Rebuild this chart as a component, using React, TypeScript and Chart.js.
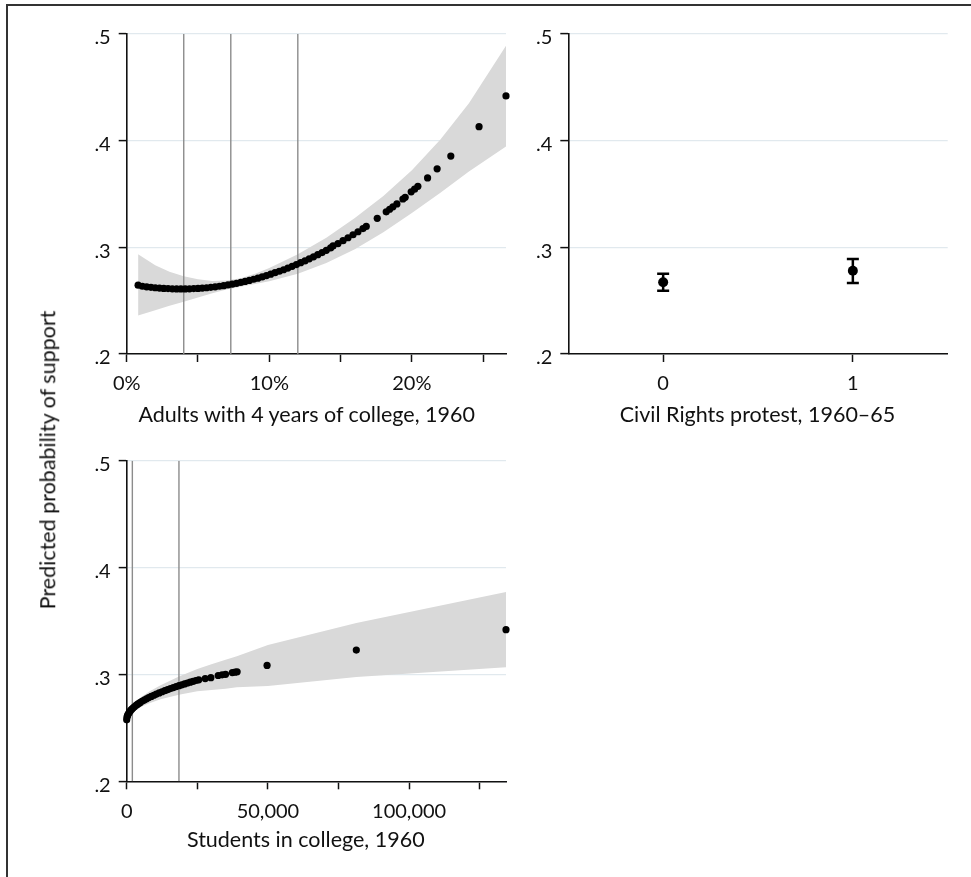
import React, { useEffect, useRef } from 'react';
import { Chart, registerables } from 'chart.js';

Chart.register(...registerables);

const FONT = 'Lato, "Open Sans", sans-serif';
const INK = '#111111';
const GRID = '#e1e9ee';
const BAND = '#d9d9d9';
const REF = '#8c8c8c';

// ---------- shared y axis ----------
const Y_MIN = 0.2;
const Y_MAX = 0.5;
const Y_TICKS = [0.2, 0.3, 0.4, 0.5];
const Y_LABELS = ['.2', '.3', '.4', '.5'];
const Y_TITLE = 'Predicted probability of support';

// ---------- panel 1: adults with 4 years of college ----------
const TL_TITLE = 'Adults with 4 years of college, 1960';
const TL_X_MIN = 0;
const TL_X_MAX = 26.6;
const TL_X_TICKS = [0, 5, 10, 15, 20, 25];
const TL_X_LABELS = ['0%', '', '10%', '', '20%', ''];
const TL_REF = [4.0, 7.3, 12.0];
const TL_X = [
  0.8, 1.1, 1.4, 1.7, 2.0, 2.3, 2.6, 2.9, 3.2, 3.5, 3.8, 4.1, 4.4, 4.7, 5.0, 5.3,
  5.6, 5.9, 6.2, 6.5, 6.8, 7.1, 7.4, 7.7, 8.0, 8.3, 8.6, 8.9, 9.2, 9.5, 9.8, 10.1,
  10.4, 10.7, 11.0, 11.3, 11.6, 11.9, 12.2, 12.5, 12.8, 13.1, 13.4, 13.7, 14.0, 14.3,
  14.47, 14.82, 15.17, 15.52, 15.87, 16.22, 16.57, 16.8, 17.57, 18.2, 18.44, 18.67,
  18.95, 19.37, 19.53, 19.95, 20.19, 20.42, 21.1, 21.77, 22.73, 24.71, 26.6,
];
const TL_Y = [
  0.2645, 0.2635, 0.2630, 0.2625, 0.2621, 0.2618, 0.2615, 0.2613, 0.2611, 0.2610,
  0.2610, 0.2610, 0.2611, 0.2613, 0.2615, 0.2618, 0.2621, 0.2625, 0.2630, 0.2635,
  0.2641, 0.2648, 0.2655, 0.2663, 0.2671, 0.2680, 0.2690, 0.2701, 0.2711, 0.2723,
  0.2735, 0.2748, 0.2762, 0.2776, 0.2790, 0.2806, 0.2822, 0.2838, 0.2856, 0.2873,
  0.2892, 0.2911, 0.2931, 0.2951, 0.2972, 0.2994,
  0.3013, 0.3035, 0.3062, 0.3090, 0.3118, 0.3146, 0.3176, 0.3196, 0.3272, 0.3333,
  0.3357, 0.3380, 0.3407, 0.3453, 0.3469, 0.3520, 0.3545, 0.3572, 0.3651, 0.3736,
  0.3856, 0.4131, 0.4419,
];
const TL_BAND_X = [0.8, 2, 3, 4, 5, 6, 7, 8, 9, 10, 12, 14, 16, 18, 20, 22, 24, 26.6];
const TL_HI = [
  0.2935, 0.2831, 0.2772, 0.2730, 0.2700, 0.2685, 0.2688, 0.2711, 0.2752, 0.2806,
  0.2936, 0.3090, 0.3274, 0.3482, 0.3723, 0.4012, 0.4350, 0.4889,
];
const TL_LO = [
  0.2362, 0.2411, 0.2452, 0.2490, 0.2530, 0.2569, 0.2604, 0.2631, 0.2656, 0.2682,
  0.2752, 0.2854, 0.2982, 0.3142, 0.3323, 0.3512, 0.3710, 0.3945,
];

// ---------- panel 2: civil rights protest ----------
const TR_TITLE = 'Civil Rights protest, 1960–65';
const TR_X_MIN = -0.5;
const TR_X_MAX = 1.5;
const TR_X_TICKS = [0, 1];
const TR_X_LABELS = ['0', '1'];
const TR_X = [0, 1];
const TR_Y = [0.2672, 0.2781];
const TR_LO = [0.2594, 0.2666];
const TR_HI = [0.2753, 0.2891];

// ---------- panel 3: students in college ----------
const BL_TITLE = 'Students in college, 1960';
const BL_X_MIN = 0;
const BL_X_MAX = 134300;
const BL_X_TICKS = [0, 25000, 50000, 75000, 100000, 125000];
const BL_X_LABELS = ['0', '', '50,000', '', '100,000', ''];
const BL_REF = [2000, 18500];
const BL_X = [
  0, 100, 250, 450, 700, 1000, 1400, 1800, 2300, 2800, 3400, 4000, 4700, 5400, 6200,
  7000, 7800, 8700, 9600, 10500, 11500, 12500, 13500, 14500, 15500, 16500, 17500,
  18500, 19500, 20500, 21500, 22500, 23500, 24500, 25500,
  27800, 29800, 32400, 33800, 35000, 37400, 38400, 39100, 49700, 81300, 134300,
];
const BL_Y = [
  0.2575, 0.2599, 0.2612, 0.2625, 0.2637, 0.2649, 0.2663, 0.2675, 0.2688, 0.2699,
  0.2712, 0.2724, 0.2736, 0.2748, 0.2760, 0.2772, 0.2783, 0.2794, 0.2805, 0.2816,
  0.2827, 0.2838, 0.2848, 0.2858, 0.2868, 0.2877, 0.2886, 0.2895, 0.2903, 0.2911,
  0.2920, 0.2928, 0.2935, 0.2943, 0.2950,
  0.2961, 0.2970, 0.2990, 0.2996, 0.3001, 0.3017, 0.3021, 0.3025, 0.3084, 0.3228,
  0.3419,
];
const BL_BAND_X = [0, 1000, 2500, 5000, 8000, 12000, 18500, 25000, 30000, 35000, 39000, 50000, 81300, 134300];
const BL_HI = [
  0.2605, 0.2684, 0.2732, 0.2786, 0.2840, 0.2898, 0.2980, 0.3052, 0.3095, 0.3137,
  0.3170, 0.3276, 0.3481, 0.3771,
];
const BL_LO = [
  0.2545, 0.2614, 0.2652, 0.2696, 0.2730, 0.2768, 0.2810, 0.2842, 0.2855, 0.2867,
  0.2880, 0.2892, 0.2975, 0.3067,
];

type Pt = { x: number; y: number };
const zip = (xs: number[], ys: number[]): Pt[] => xs.map((x, i) => ({ x, y: ys[i] }));

function bandSets(xs: number[], lo: number[], hi: number[]) {
  return [
    {
      data: zip(xs, lo),
      showLine: true,
      borderWidth: 0,
      borderColor: 'rgba(0,0,0,0)',
      pointRadius: 0,
      fill: false,
      order: 3,
    },
    {
      data: zip(xs, hi),
      showLine: true,
      borderWidth: 0,
      borderColor: 'rgba(0,0,0,0)',
      backgroundColor: BAND,
      pointRadius: 0,
      fill: '-1',
      order: 3,
    },
  ];
}

function refSets(vals: number[]) {
  return vals.map((v) => ({
    data: [
      { x: v, y: Y_MIN },
      { x: v, y: Y_MAX },
    ],
    showLine: true,
    borderColor: REF,
    borderWidth: 1.4,
    pointRadius: 0,
    fill: false,
    order: 2,
  }));
}

function pointSet(xs: number[], ys: number[], r: number) {
  return {
    data: zip(xs, ys),
    showLine: false,
    pointRadius: r,
    pointBackgroundColor: '#000',
    pointBorderColor: '#000',
    pointBorderWidth: 0,
    clip: false as any,
    order: 0,
  };
}

type Cfg = {
  datasets: any[];
  xMin: number;
  xMax: number;
  xTicks: number[];
  xLabels: string[];
  padding: { left: number; top: number; right: number; bottom: number };
  yWidth: number;
  xHeight: number;
};

function buildOptions(c: Cfg): any {
  const tickFont = { family: FONT, size: 20 };
  return {
    responsive: false,
    animation: false,
    events: [],
    layout: { padding: c.padding },
    plugins: { legend: { display: false }, tooltip: { enabled: false } },
    scales: {
      x: {
        type: 'linear',
        min: c.xMin,
        max: c.xMax,
        afterBuildTicks: (s: any) => {
          s.ticks = c.xTicks.map((v) => ({ value: v }));
        },
        afterFit: (s: any) => {
          s.height = c.xHeight;
        },
        ticks: {
          callback: (_v: any, i: number) => c.xLabels[i],
          font: tickFont,
          color: INK,
          padding: 10,
          maxRotation: 0,
          autoSkip: false,
        },
        grid: {
          drawOnChartArea: false,
          drawTicks: true,
          tickLength: 8,
          tickColor: INK,
          tickWidth: 1.5,
        },
        border: { display: true, color: INK, width: 1.6 },
      },
      y: {
        type: 'linear',
        min: Y_MIN,
        max: Y_MAX,
        afterBuildTicks: (s: any) => {
          s.ticks = Y_TICKS.map((v) => ({ value: v }));
        },
        afterFit: (s: any) => {
          s.width = c.yWidth;
        },
        ticks: {
          callback: (_v: any, i: number) => Y_LABELS[i],
          font: tickFont,
          color: INK,
          padding: 8,
          labelOffset: 4,
          autoSkip: false,
        },
        grid: {
          color: GRID,
          lineWidth: 1.2,
          drawTicks: true,
          tickLength: 8,
          tickColor: INK,
          tickWidth: 1.5,
        },
        border: { display: true, color: INK, width: 1.6 },
      },
    },
  };
}

function Panel(props: { cfg: Cfg; left: number; top: number; width: number; height: number }) {
  const ref = useRef<HTMLCanvasElement | null>(null);
  useEffect(() => {
    if (!ref.current) return;
    const chart = new Chart(ref.current, {
      type: 'scatter',
      data: { datasets: props.cfg.datasets },
      options: buildOptions(props.cfg),
    } as any);
    return () => chart.destroy();
  }, []);
  return (
    <canvas
      ref={ref}
      width={props.width}
      height={props.height}
      style={{
        position: 'absolute',
        left: props.left,
        top: props.top,
        width: props.width,
        height: props.height,
      }}
    />
  );
}

const titleStyle = (x: number, y: number): React.CSSProperties => ({
  position: 'absolute',
  left: x,
  top: y,
  transform: 'translate(-50%, -50%)',
  whiteSpace: 'nowrap',
  fontFamily: FONT,
  fontSize: 21.5,
  lineHeight: 1,
  color: INK,
});

export default function App() {
  const tl: Cfg = {
    datasets: [
      pointSet(TL_X, TL_Y, 3.6),
      ...refSets(TL_REF),
      ...bandSets(TL_BAND_X, TL_LO, TL_HI),
    ],
    xMin: TL_X_MIN,
    xMax: TL_X_MAX,
    xTicks: TL_X_TICKS,
    xLabels: TL_X_LABELS,
    padding: { left: 0, top: 34, right: 34, bottom: 0 },
    yWidth: 126.7,
    xHeight: 76,
  };

  const tr: Cfg = {
    datasets: [
      pointSet(TR_X, TR_Y, 5),
      {
        data: [...zip(TR_X, TR_LO), ...zip(TR_X, TR_HI)],
        showLine: false,
        pointStyle: 'line',
        pointRadius: 6,
        pointBorderWidth: 2.5,
        pointBorderColor: '#000',
        pointBackgroundColor: '#000',
        order: 1,
      },
      ...TR_X.map((x, i) => ({
        data: [
          { x, y: TR_LO[i] },
          { x, y: TR_HI[i] },
        ],
        showLine: true,
        borderColor: '#000',
        borderWidth: 2.5,
        pointRadius: 0,
        fill: false,
        order: 1,
      })),
    ],
    xMin: TR_X_MIN,
    xMax: TR_X_MAX,
    xTicks: TR_X_TICKS,
    xLabels: TR_X_LABELS,
    padding: { left: 0, top: 34, right: 23.3, bottom: 0 },
    yWidth: 68.3,
    xHeight: 76,
  };

  const bl: Cfg = {
    datasets: [
      pointSet(BL_X, BL_Y, 3.6),
      ...refSets(BL_REF),
      ...bandSets(BL_BAND_X, BL_LO, BL_HI),
    ],
    xMin: BL_X_MIN,
    xMax: BL_X_MAX,
    xTicks: BL_X_TICKS,
    xLabels: BL_X_LABELS,
    padding: { left: 0, top: 30.7, right: 34, bottom: 25.7 },
    yWidth: 126.7,
    xHeight: 70,
  };

  return (
    <div
      style={{
        position: 'fixed',
        left: 0,
        top: 0,
        width: 971,
        height: 877,
        overflow: 'hidden',
        background: '#ffffff',
      }}
    >
      <div
        style={{
          position: 'absolute',
          left: 6,
          top: 4,
          width: 1200,
          height: 1200,
          borderLeft: '2px solid #333',
          borderTop: '2px solid #333',
        }}
      />
      <Panel cfg={tl} left={0} top={0} width={540} height={430} />
      <Panel cfg={tr} left={500} top={0} width={471} height={430} />
      <Panel cfg={bl} left={0} top={430} width={540} height={447} />
      <div style={titleStyle(306.7, 415)}>{TL_TITLE}</div>
      <div style={titleStyle(757.5, 415)}>{TR_TITLE}</div>
      <div style={titleStyle(305.8, 840)}>{BL_TITLE}</div>
      <div style={{ ...titleStyle(48, 460), transform: 'translate(-50%, -50%) rotate(-90deg)' }}>{Y_TITLE}</div>
    </div>
  );
}
